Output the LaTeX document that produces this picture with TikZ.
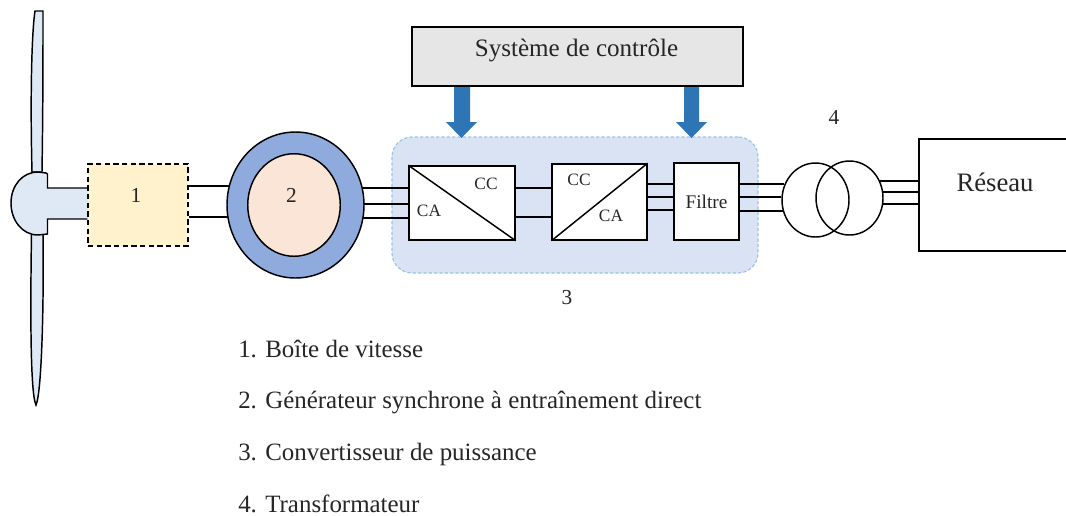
\documentclass[tikz,border=0pt]{standalone}
\usepackage{fontspec}
\setmainfont{Liberation Serif}
\usetikzlibrary{shapes.geometric,backgrounds}
\definecolor{bladefill}{HTML}{DEE9F5}
\definecolor{gearfill}{HTML}{FFF2CD}
\definecolor{genouter}{HTML}{8FAADC}
\definecolor{geninner}{HTML}{FBE5D6}
\definecolor{convfill}{HTML}{D9E3F3}
\definecolor{convedge}{HTML}{9DC3E6}
\definecolor{ctrlfill}{HTML}{E7E6E6}
\definecolor{arrowblue}{HTML}{2E75B6}
\tikzset{
  wire/.style={draw=black,line width=1.1pt},
  outlined/.style={draw=black,line width=1.1pt},
  plainbox/.style={outlined,fill=white,inner sep=0pt},
  lab/.style={font=\fontsize{13}{15}\selectfont,inner sep=0pt,text=black!85},
  num/.style={font=\fontsize{16}{18}\selectfont,inner sep=0pt,text=black!85},
  title/.style={font=\fontsize{18.8}{21}\selectfont,inner sep=0pt,text=black!85},
  legend/.style={font=\fontsize{18.7}{21}\selectfont,inner sep=0pt,anchor=base west,text=black!85},
  ctrlarrow/.style={fill=arrowblue},
}
\begin{document}
\begin{tikzpicture}[x=0.75pt,y=-0.75pt]
\useasboundingbox (0,0) rectangle (1066,515);
% blades
\draw[outlined,fill=bladefill] (35,11) .. controls (32,30) and (30,90) .. (32,172) -- (42,172) .. controls (43,110) and (43,50) .. (43,11) -- cycle;
\draw[outlined,fill=bladefill] (31.5,234) .. controls (30,330) and (31,395) .. (36,405) .. controls (41,395) and (44,320) .. (43,234) -- cycle;
% hub and shaft
\fill[bladefill] (47,174) -- (47,188) -- (88,188) -- (88,219) -- (47,219) -- (47,234) -- (38,235) .. controls (22,235) and (11,220) .. (11,203) .. controls (11,186) and (22,172) .. (38,172) -- cycle;
% gearbox
\node[draw=black,line width=1.1pt,dash pattern=on 4pt off 2.5pt,fill=gearfill,minimum width=75pt,minimum height=61.5pt,inner sep=0pt] (gear) at (138,205) {};
\node[num] (n1) at (136,195) {1};
\draw[outlined] (gear.west |- 0,188) -- (47.5,188) -- (47.5,174) -- (46,173) -- (38,172) .. controls (22,172) and (11,186) .. (11,203) .. controls (11,220) and (22,235) .. (38,235) -- (47.5,234) -- (47.5,219) -- (gear.west |- 0,219);
% generator
\node[outlined,ellipse,fill=genouter,minimum width=102.75pt,minimum height=109.5pt,inner sep=0pt] (genout) at (295.5,205) {};
\node[outlined,ellipse,fill=geninner,minimum width=69.4pt,minimum height=76.9pt,inner sep=0pt] (genin) at (294,205) {};
\node[num] (n2) at (291.5,195) {2};
% converter boxes
\begin{pgfonlayer}{background}
\node[draw=convedge,line width=0.9pt,dash pattern=on 2.5pt off 1.5pt,fill=convfill,rounded corners=15pt,minimum width=274.5pt,minimum height=102pt,inner sep=0pt] (conv) at (575,205) {};
\end{pgfonlayer}
\node[plainbox,minimum width=79.5pt,minimum height=55.5pt] (rect) at (462,203) {};
\node[plainbox,minimum width=71pt,minimum height=57pt] (inv) at (599.5,202) {};
\node[plainbox,minimum width=48.75pt,minimum height=57.75pt,font=\fontsize{14.5}{16}\selectfont,text=black!85] (filt) at (706.5,201.5) {Filtre};
\draw[wire] (rect.north west) -- (rect.south east);
\draw[wire] (inv.south west) -- (inv.north east);
\node[lab] (cc1) at (486,184) {CC};
\node[lab] (ca1) at (429,211) {CA};
\node[lab] (cc2) at (579,180) {CC};
\node[lab] (ca2) at (611,216) {CA};
% transformer
\node[draw=black,line width=1.1pt,ellipse,minimum width=50.25pt,minimum height=55.5pt,inner sep=0pt] (t1) at (815.5,200) {};
\node[draw=black,line width=1.1pt,ellipse,minimum width=50.25pt,minimum height=55.5pt,inner sep=0pt] (t2) at (849.5,198) {};
% grid (its right side runs off the picture)
\draw[outlined,fill=white] (1067,139) -- (919,139) -- (919,251) -- (1067,251);
\coordinate (grid) at (919,195);
\node[font=\fontsize{20}{22}\selectfont,inner sep=0pt,text=black!85] (gridlab) at (995,182) {Réseau};
% control
\node[outlined,fill=ctrlfill,minimum width=248.25pt,minimum height=44.5pt,inner sep=0pt] (ctrl) at (577.5,56.5) {};
\node[title] (ctrllab) at (576.5,50) {Système de contrôle};
% wires
\begin{pgfonlayer}{background}
\foreach \y in {186,217} \draw[wire] (gear.east |- 0,\y) -- (genout.center |- 0,\y);
\foreach \y in {188,204,218} \draw[wire] (genout.center |- 0,\y) -- (rect.west |- 0,\y);
\foreach \y in {188,217} \draw[wire] (rect.east |- 0,\y) -- (inv.west |- 0,\y);
\foreach \y in {184,197,210} \draw[wire] (inv.east |- 0,\y) -- (filt.west |- 0,\y);
\foreach \y/\d in {184/2.5,197/0,211/2} \draw[wire] (filt.east |- 0,\y) -- ([xshift=\d*0.75pt]t1.west |- 0,\y);
\foreach \y/\d in {181/3.5,192/0.5,204/0.5} \draw[wire] ([xshift=-\d*0.75pt]t2.east |- 0,\y) -- (grid |- 0,\y);
\end{pgfonlayer}
% arrows
\fill[ctrlarrow] (454,87) -- (470,87) -- (470,122) -- (477,122) -- (461.5,138) -- (446,122) -- (454,122) -- cycle;
\fill[ctrlarrow] (684,87) -- (699,87) -- (699,122) -- (707,122) -- (691.5,138) -- (676,122) -- (684,122) -- cycle;
% numbers
\node[num] (n3) at (567,298) {3};
\node[num] (n4) at (834,117) {4};
% legend
\node[legend] (l1) at (238,357) {1. Boîte de vitesse};
\node[legend] (l2) at (238,408) {2. Générateur synchrone à entraînement direct};
\node[legend] (l3) at (238,460) {3. Convertisseur de puissance};
\node[legend] (l4) at (238,512) {4. Transformateur};
\end{tikzpicture}
\end{document}
